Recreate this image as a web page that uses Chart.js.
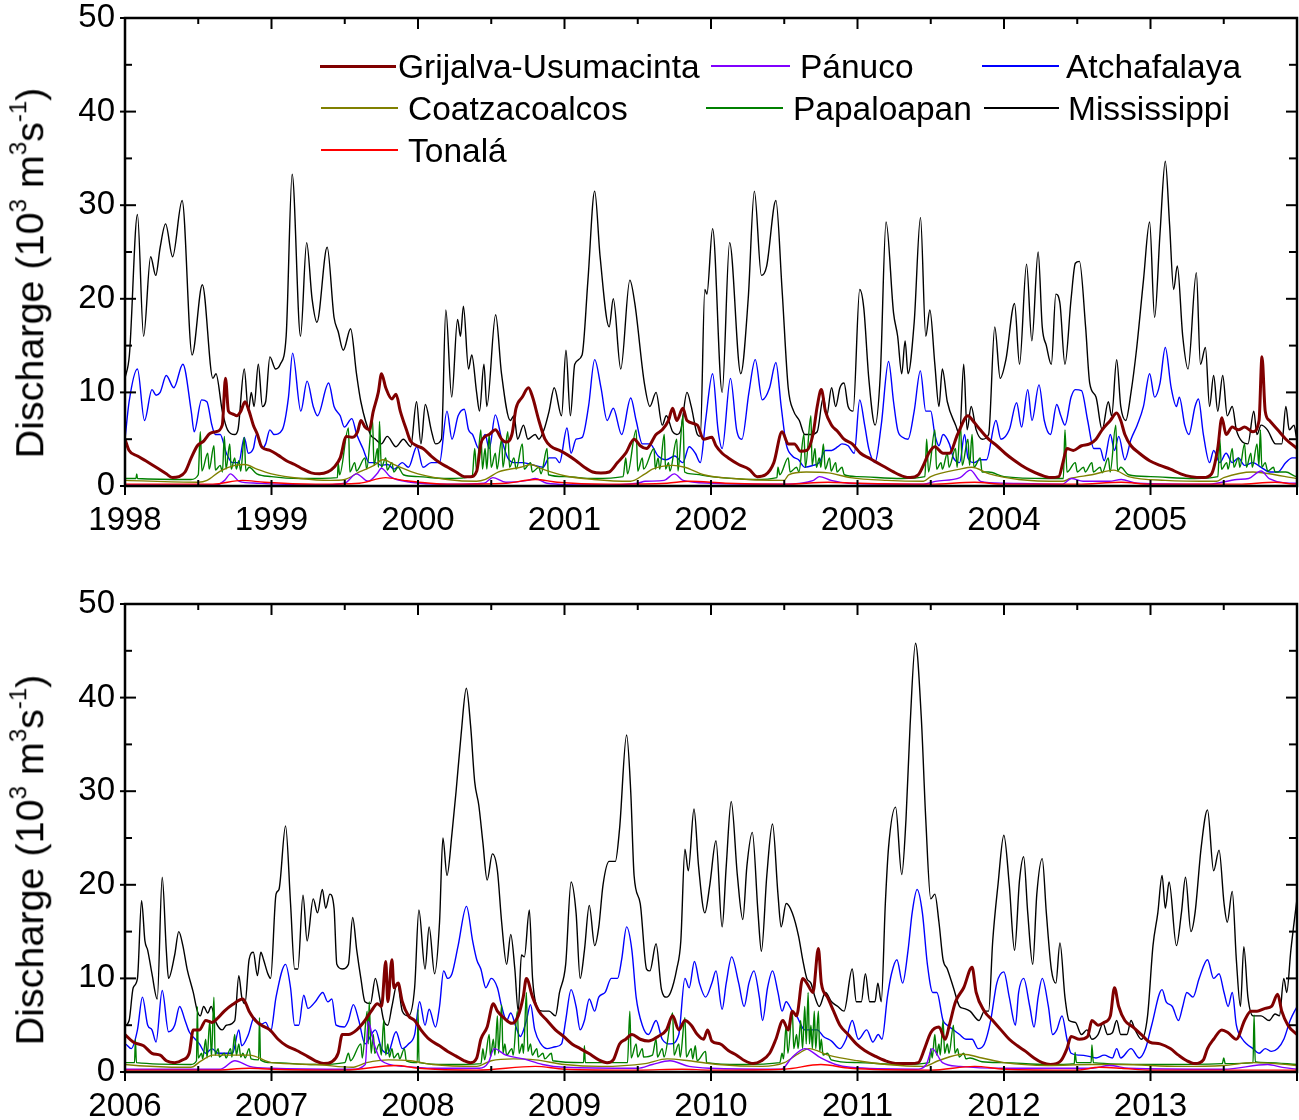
<!DOCTYPE html>
<html>
<head>
<meta charset="utf-8">
<script src="https://cdn.jsdelivr.net/npm/chart.js@4.4.1/dist/chart.umd.min.js"></script>
<style>
  html, body { margin: 0; padding: 0; background: #fff; }
  body { width: 1299px; height: 1120px; position: relative; overflow: hidden;
         font-family: "Liberation Sans", Arial, sans-serif; color: #000; }
  canvas { position: absolute; left: 0; }
  #topChart { top: 0; }
  #bottomChart { top: 586px; }
  .ytitle { position: absolute; font-size: 39.5px; white-space: nowrap; line-height: 1;
            transform: translate(-50%, -50%) rotate(-90deg); }
  .ytitle sup { font-size: 24px; vertical-align: 0; position: relative; top: -0.72em; }
  .key-line { position: absolute; }
  .key-text { position: absolute; font-size: 33.5px; line-height: 1; white-space: nowrap; }
</style>
</head>
<body>
<canvas id="topChart" width="1299" height="560"></canvas>
<canvas id="bottomChart" width="1299" height="534"></canvas>
<div class="ytitle" style="left:30px; top:273px">Discharge (10<sup>3</sup> m<sup>3</sup>s<sup>-1</sup>)</div>
<div class="ytitle" style="left:30px; top:860px">Discharge (10<sup>3</sup> m<sup>3</sup>s<sup>-1</sup>)</div>
<div id="legend"></div>
<script>
// discharge, 10^3 m3/s, as [decimal year, value]
const mississippi = [
  [1998.000,11.5],[1998.030,14],[1998.085,29],[1998.127,16],[1998.175,24.5],[1998.210,22.5],[1998.240,25.5],
  [1998.277,28],[1998.325,24.5],[1998.390,30.5],[1998.458,14],[1998.528,21.5],[1998.600,11.5],[1998.621,12],
  [1998.664,8],[1998.700,6],[1998.749,5.5],[1998.771,6],[1998.814,12.5],[1998.842,8],[1998.862,10],[1998.881,8.5],
  [1998.910,13],[1998.938,8.5],[1998.960,9],[1998.989,13.8],[1999.028,12.5],[1999.060,13],[1999.100,16],
  [1999.141,33.3],[1999.198,16],[1999.240,26],[1999.277,20],[1999.310,17.5],[1999.380,25.5],[1999.427,18],
  [1999.455,16.5],[1999.490,14.5],[1999.540,16.8],[1999.580,12],[1999.610,9],[1999.675,5.5],[1999.710,5],
  [1999.750,4.5],[1999.790,5.3],[1999.850,4.2],[1999.900,5],[1999.950,4.2],[1999.990,9],[2000.020,4.5],
  [2000.050,8.7],[2000.090,6],[2000.120,4.5],[2000.160,5],[2000.190,18.8],[2000.230,9.5],[2000.270,17.8],
  [2000.290,16],[2000.310,19.2],[2000.345,12.5],[2000.367,14],[2000.400,10],[2000.420,8],[2000.450,13],
  [2000.470,8.5],[2000.530,18.3],[2000.570,12],[2000.630,7],[2000.655,7.5],[2000.680,5],[2000.720,6.5],
  [2000.750,5],[2000.800,5.5],[2000.825,5],[2000.860,6],[2000.895,8],[2000.930,10.5],[2000.980,7.5],
  [2001.010,14.5],[2001.040,7.5],[2001.070,13],[2001.120,14],[2001.160,22],[2001.206,31.5],[2001.243,24.5],
  [2001.305,17],[2001.333,20],[2001.384,12.5],[2001.446,22],[2001.480,19.5],[2001.545,11],[2001.583,8.5],
  [2001.625,10],[2001.667,6.5],[2001.695,7.5],[2001.738,5.8],[2001.766,5.5],[2001.794,6],[2001.836,10],
  [2001.865,8.5],[2001.907,5.5],[2001.927,5.3],[2001.958,21],[2001.972,20.5],[2002.011,27.5],[2002.076,10],
  [2002.127,26],[2002.203,12],[2002.254,20],[2002.296,31.5],[2002.344,22.5],[2002.380,23.5],[2002.443,30.5],
  [2002.485,21],[2002.527,10.5],[2002.564,8],[2002.603,7],[2002.640,5.5],[2002.682,5.5],[2002.725,5.8],
  [2002.767,9.5],[2002.790,7.5],[2002.823,10.5],[2002.851,8.5],[2002.880,10.5],[2002.908,11],[2002.936,8.5],
  [2002.970,8],[2003.015,21],[2003.043,19],[2003.077,11.5],[2003.120,6.5],[2003.156,12],[2003.195,28.2],
  [2003.246,18.5],[2003.274,16],[2003.302,12],[2003.325,15.5],[2003.345,12],[2003.387,17.5],[2003.430,28.7],
  [2003.466,16],[2003.494,18.8],[2003.528,13],[2003.556,8.5],[2003.579,12.5],[2003.613,9],[2003.670,6.5],
  [2003.697,5.5],[2003.725,13],[2003.748,6],[2003.776,8.5],[2003.810,6],[2003.852,5],[2003.895,5.5],
  [2003.937,17],[2003.974,11.5],[2004.013,13.5],[2004.072,19.5],[2004.106,13],[2004.154,23.7],[2004.190,15.5],
  [2004.233,25],[2004.261,17],[2004.289,15],[2004.323,13],[2004.354,20.5],[2004.382,19.5],[2004.416,13],
  [2004.458,20],[2004.487,23.8],[2004.515,24],[2004.557,17],[2004.585,11],[2004.628,9.5],[2004.670,6],
  [2004.712,9],[2004.735,7.5],[2004.769,13.5],[2004.797,8.5],[2004.831,7],[2004.867,10],[2004.904,14.5],
  [2004.952,22],[2004.994,28.2],[2005.028,18],[2005.065,27],[2005.101,34.7],[2005.130,28],[2005.158,21],
  [2005.183,23.5],[2005.220,16],[2005.256,12.5],[2005.313,22.8],[2005.341,13],[2005.375,14.8],[2005.403,8.5],
  [2005.431,11.8],[2005.459,8],[2005.493,11.8],[2005.524,7.5],[2005.558,8.5],[2005.586,6],[2005.628,4.7],
  [2005.665,4.5],[2005.705,8],[2005.727,5.5],[2005.755,6.5],[2005.798,6],[2005.854,4.5],[2005.896,4.5],
  [2005.924,8.5],[2005.947,6],[2005.980,6.5],
  [2006.000,5],[2006.028,5.5],[2006.056,9],[2006.085,10],[2006.113,18.3],[2006.136,14],[2006.155,13],
  [2006.184,10.5],[2006.220,7.8],[2006.254,20.8],[2006.282,13],[2006.297,10],[2006.339,12.5],[2006.367,15],
  [2006.395,13.5],[2006.424,11],[2006.466,8.5],[2006.494,6.5],[2006.514,6],[2006.537,7],[2006.565,6.3],
  [2006.588,7],[2006.621,5.3],[2006.664,4.5],[2006.692,5],[2006.749,5.5],[2006.777,10.3],[2006.797,8],
  [2006.819,7.3],[2006.847,12],[2006.876,12.8],[2006.904,10.3],[2006.927,12.8],[2006.946,12],[2006.975,10.5],
  [2006.994,10],[2007.031,19],[2007.051,19.5],[2007.096,26.3],[2007.130,18],[2007.158,11],[2007.180,11],
  [2007.215,18.9],[2007.243,14],[2007.285,18.5],[2007.314,17],[2007.347,19.5],[2007.370,17.5],[2007.398,19],
  [2007.427,17.5],[2007.446,11.5],[2007.483,11],[2007.525,11.5],[2007.554,16.5],[2007.582,13],[2007.610,10],
  [2007.638,7.5],[2007.675,7.3],[2007.709,10],[2007.737,8],[2007.766,5.5],[2007.794,5],[2007.822,7],
  [2007.859,9.5],[2007.893,6.5],[2007.935,6],[2007.977,9],[2008.006,17.3],[2008.048,11],[2008.076,15.5],
  [2008.113,10.5],[2008.147,16],[2008.170,25],[2008.198,21],[2008.232,25.5],[2008.260,30],[2008.294,36],
  [2008.330,41],[2008.359,37],[2008.387,31],[2008.415,28.5],[2008.443,24.5],[2008.472,20.5],[2008.508,23.3],
  [2008.542,21.5],[2008.571,16],[2008.605,11.5],[2008.633,14.7],[2008.661,11],[2008.684,6.5],[2008.706,12.5],
  [2008.726,12.3],[2008.760,17.3],[2008.782,10],[2008.811,7],[2008.853,6.5],[2008.895,6.5],[2008.938,6],
  [2008.966,8.5],[2009.008,11.5],[2009.045,20.3],[2009.079,17],[2009.107,10],[2009.136,13],[2009.169,17.8],
  [2009.206,13.5],[2009.234,15.5],[2009.263,20],[2009.305,22.5],[2009.347,22.5],[2009.376,26],[2009.424,36],
  [2009.452,30],[2009.475,21],[2009.517,18],[2009.560,11],[2009.583,10.8],[2009.625,13.7],[2009.662,8.8],
  [2009.696,8],[2009.724,8.5],[2009.766,11],[2009.794,14],[2009.822,23.8],[2009.845,21.5],[2009.884,28.1],
  [2009.915,22],[2009.958,17],[2009.992,20],[2010.034,24.7],[2010.076,15.5],[2010.104,22],[2010.138,28.9],
  [2010.180,21],[2010.217,16.3],[2010.245,22],[2010.282,25.6],[2010.321,17],[2010.344,12.9],[2010.381,21],
  [2010.420,26.5],[2010.457,19],[2010.479,15.5],[2010.513,18],[2010.555,17],[2010.598,14.5],[2010.626,12],
  [2010.654,10],[2010.682,9.5],[2010.710,8],[2010.739,7],[2010.781,8.5],[2010.823,7.5],[2010.866,7],
  [2010.908,6.5],[2010.964,11],[2010.992,7.5],[2011.026,7.5],[2011.054,10.5],[2011.083,7.5],[2011.119,7.5],
  [2011.139,9.5],[2011.162,7.5],[2011.190,18],[2011.212,24],[2011.260,28.3],[2011.302,21.1],[2011.331,27],
  [2011.359,37],[2011.396,45.8],[2011.435,38],[2011.466,27],[2011.500,18.5],[2011.528,19],[2011.556,16],
  [2011.584,12],[2011.613,11],[2011.655,9],[2011.697,7],[2011.725,6.8],[2011.768,6.5],[2011.830,5.5],
  [2011.866,6.5],[2011.895,6.5],[2011.923,14],[2011.959,20],[2011.999,25.3],[2012.036,20],[2012.072,13],
  [2012.106,20.5],[2012.134,23],[2012.162,17],[2012.196,11.5],[2012.224,19],[2012.261,22.8],[2012.289,17],
  [2012.323,11],[2012.354,9.5],[2012.382,13.8],[2012.416,8],[2012.444,5.5],[2012.487,5.3],[2012.529,4],
  [2012.566,4.5],[2012.600,3.5],[2012.642,4],[2012.676,5.2],[2012.707,4],[2012.740,4.2],[2012.769,5.5],
  [2012.797,4],[2012.839,4],[2012.867,5.5],[2012.895,4.5],[2012.938,3.5],[2012.980,6],[2013.017,13.5],
  [2013.050,17],[2013.079,21],[2013.101,17.5],[2013.127,20.3],[2013.177,13.5],[2013.211,17],[2013.239,20.8],
  [2013.276,15],[2013.304,17],[2013.346,24],[2013.389,28],[2013.431,21.5],[2013.468,23.7],[2013.502,18],
  [2013.524,16],[2013.558,19.3],[2013.586,12],[2013.614,7],[2013.637,13.4],[2013.665,8],[2013.700,6],
  [2013.755,6],[2013.810,5.5],[2013.850,6.2],[2013.880,6],[2013.910,10],[2013.930,8.5],[2013.958,13],
  [2014.000,18.5]
];

const atchafalaya = [
  [1998.000,5],[1998.028,9],[1998.085,12.5],[1998.133,7],[1998.184,10.3],[1998.212,9.7],[1998.240,10],
  [1998.282,11.8],[1998.333,10.5],[1998.395,13],[1998.452,8],[1998.472,5.8],[1998.523,9.2],[1998.559,9],
  [1998.593,6.5],[1998.616,5.5],[1998.650,5.5],[1998.692,3.5],[1998.734,2.5],[1998.777,2.5],[1998.814,5.2],
  [1998.842,3.5],[1998.876,4],[1998.898,5.5],[1998.938,4],[1998.960,4.5],[1998.989,6],[1999.017,5.5],
  [1999.073,6],[1999.116,9.5],[1999.144,14.2],[1999.200,8],[1999.243,11.2],[1999.285,8.5],[1999.314,7.5],
  [1999.390,11],[1999.427,8.5],[1999.469,7.5],[1999.497,6.3],[1999.548,7.2],[1999.582,5.5],[1999.624,4],
  [1999.667,2.5],[1999.709,2.5],[1999.751,2.2],[1999.794,2.3],[1999.836,1.8],[1999.893,2.5],[1999.935,2],
  [1999.992,4.2],[2000.034,2],[2000.090,2.5],[2000.147,2.5],[2000.198,8],[2000.232,5],[2000.274,7.5],
  [2000.316,8.2],[2000.345,6],[2000.373,5.5],[2000.415,4],[2000.458,5.5],[2000.486,4],[2000.528,7.6],
  [2000.571,5],[2000.613,3],[2000.655,2.5],[2000.712,2.5],[2000.797,2.2],[2000.853,2],[2000.895,3],
  [2000.938,3],[2000.966,2.5],[2001.017,6.2],[2001.045,3.5],[2001.079,5],[2001.121,5.2],[2001.164,8.5],
  [2001.206,13.5],[2001.249,10.5],[2001.291,7],[2001.333,8.3],[2001.390,5.5],[2001.452,9.4],[2001.489,7],
  [2001.531,4.5],[2001.583,4.5],[2001.639,3.2],[2001.695,2.8],[2001.752,3.2],[2001.808,2.5],[2001.851,4.2],
  [2001.893,3.5],[2001.927,2.5],[2001.963,7],[2002.011,12],[2002.048,6],[2002.076,4],[2002.133,11.5],
  [2002.175,6],[2002.211,5],[2002.259,10],[2002.302,13.5],[2002.350,9.2],[2002.400,10.5],[2002.443,13.2],
  [2002.479,8.5],[2002.513,4.5],[2002.555,3.2],[2002.598,2.8],[2002.640,2],[2002.696,2.2],[2002.739,2.5],
  [2002.781,3.8],[2002.823,3.8],[2002.866,4.2],[2002.894,4.5],[2002.936,4.3],[2002.978,3.5],[2003.015,9.2],
  [2003.049,6.5],[2003.077,4],[2003.119,2.5],[2003.162,6.5],[2003.212,13.3],[2003.246,9],[2003.274,6],
  [2003.308,5.2],[2003.345,5],[2003.387,8],[2003.429,12.3],[2003.466,8],[2003.500,8],[2003.528,5.5],
  [2003.556,4.3],[2003.584,5.5],[2003.627,4.5],[2003.655,3],[2003.697,2.5],[2003.731,5.5],[2003.754,3],
  [2003.796,2.5],[2003.838,2.8],[2003.880,2.8],[2003.945,7],[2003.979,5],[2004.036,6],[2004.086,8.9],
  [2004.120,6.3],[2004.162,10.3],[2004.191,7],[2004.239,10.8],[2004.275,7],[2004.317,5.5],[2004.360,8.7],
  [2004.388,7.5],[2004.416,6.5],[2004.458,9.5],[2004.487,10.3],[2004.529,10.2],[2004.571,7],[2004.613,4],
  [2004.656,4],[2004.684,2.7],[2004.726,5.5],[2004.754,3.8],[2004.783,5.3],[2004.825,2.8],[2004.867,5],
  [2004.909,6.5],[2004.952,8.5],[2004.994,12],[2005.028,9.5],[2005.065,11],[2005.101,14.8],[2005.141,10.5],
  [2005.177,8.5],[2005.197,9.5],[2005.234,6.5],[2005.262,5.5],[2005.304,8.5],[2005.327,9.3],[2005.361,5.5],
  [2005.403,2.5],[2005.431,3.8],[2005.473,2.5],[2005.516,3.5],[2005.558,2.5],[2005.600,3],[2005.642,2.2],
  [2005.699,2.5],[2005.755,2],[2005.812,1.5],[2005.868,1.5],[2005.924,2.5],[2005.967,3],
  [2006.000,3],[2006.042,2.5],[2006.085,4.5],[2006.119,8],[2006.155,5],[2006.184,4.5],[2006.212,3.2],
  [2006.254,8.7],[2006.297,4.3],[2006.339,5],[2006.373,7],[2006.410,5.5],[2006.438,4.3],[2006.480,3.5],
  [2006.508,3],[2006.551,2],[2006.593,2.5],[2006.636,2],[2006.734,2],[2006.777,4.5],[2006.797,2.8],
  [2006.842,4],[2006.881,5.8],[2006.918,5],[2006.960,5.3],[2006.994,4.3],[2007.031,8],[2007.096,11.5],
  [2007.130,9],[2007.158,5],[2007.186,5],[2007.220,8.2],[2007.249,6.8],[2007.299,7.5],[2007.350,8.5],
  [2007.384,7.5],[2007.412,7.8],[2007.441,5],[2007.497,4.8],[2007.525,5.5],[2007.559,7.2],[2007.596,5.5],
  [2007.638,3],[2007.709,4.5],[2007.751,2.5],[2007.794,2],[2007.850,4.3],[2007.893,2.5],[2007.935,3],
  [2007.977,4],[2008.011,7.5],[2008.048,5],[2008.076,6.7],[2008.119,4.8],[2008.147,7],[2008.175,10.8],
  [2008.203,10],[2008.232,10.5],[2008.274,13.5],[2008.331,17.7],[2008.373,14],[2008.401,12],[2008.429,11],
  [2008.463,9],[2008.500,10],[2008.542,9],[2008.571,7],[2008.605,5.5],[2008.633,6.3],[2008.669,4.8],
  [2008.698,3.8],[2008.740,5.5],[2008.768,7.2],[2008.797,4.5],[2008.839,3],[2008.881,2.5],[2008.938,2.7],
  [2008.980,3],[2009.008,5.5],[2009.045,8.8],[2009.079,7],[2009.107,4.5],[2009.136,5.5],[2009.169,7.8],
  [2009.206,6.5],[2009.234,8],[2009.277,8.5],[2009.319,10],[2009.362,10],[2009.390,12],[2009.424,15.5],
  [2009.460,13],[2009.489,8],[2009.531,5],[2009.573,4],[2009.625,5.5],[2009.667,3.5],[2009.724,3],
  [2009.780,4],[2009.822,10],[2009.851,9],[2009.887,11.8],[2009.921,9.5],[2009.963,8],[2010.006,9.5],
  [2010.034,10.8],[2010.076,6.7],[2010.104,9.5],[2010.141,12.3],[2010.189,9.5],[2010.226,7],[2010.259,9.5],
  [2010.293,10.8],[2010.330,8],[2010.352,5.5],[2010.386,9],[2010.420,10.8],[2010.457,8.5],[2010.485,6.5],
  [2010.513,7.5],[2010.555,6.5],[2010.584,6],[2010.640,4.5],[2010.725,4.5],[2010.767,3.8],[2010.823,3.3],
  [2010.880,2.5],[2010.922,3.5],[2010.964,5.5],[2011.006,3.5],[2011.063,4.5],[2011.105,3.2],[2011.142,4],
  [2011.167,3.5],[2011.204,8],[2011.232,10.5],[2011.269,12],[2011.308,9.5],[2011.345,13],[2011.373,17],
  [2011.407,19.5],[2011.443,17],[2011.477,11.5],[2011.514,8.5],[2011.542,8.5],[2011.584,5.5],[2011.613,5],
  [2011.655,4.5],[2011.697,4],[2011.740,3.5],[2011.782,3.5],[2011.824,2.5],[2011.866,3],[2011.909,5.5],
  [2011.951,9.5],[2011.999,10.7],[2012.036,8],[2012.078,5],[2012.100,8.5],[2012.134,10],[2012.176,7],
  [2012.205,4.8],[2012.233,8],[2012.261,10],[2012.303,7],[2012.332,4],[2012.360,4.5],[2012.396,6],
  [2012.430,3.5],[2012.458,2],[2012.515,1.8],[2012.571,1.7],[2012.628,1.5],[2012.684,1.8],[2012.740,1.5],
  [2012.769,2.5],[2012.797,1.5],[2012.867,2.5],[2012.924,1.5],[2012.966,2.5],[2013.008,5],[2013.079,8.8],
  [2013.107,7.5],[2013.149,7],[2013.191,5.5],[2013.220,7],[2013.248,8.5],[2013.290,8],[2013.332,10],
  [2013.389,12],[2013.431,10],[2013.468,10.5],[2013.502,8.5],[2013.530,7],[2013.558,8.5],[2013.586,5],
  [2013.628,3.5],[2013.657,3],[2013.699,2.5],[2013.741,2],[2013.783,2.5],[2013.826,2.2],[2013.868,2.5],
  [2013.910,3.5],[2013.953,5.5],[2014.000,7]
];

const grijalva = [
  [1998.000,5],[1998.028,3.8],[1998.085,3.2],[1998.141,2.7],[1998.212,2],[1998.282,1.3],[1998.325,0.9],
  [1998.367,1],[1998.410,1.5],[1998.452,3],[1998.494,4.3],[1998.537,4.8],[1998.579,5.6],[1998.621,5.8],
  [1998.664,6.5],[1998.686,11.5],[1998.706,8],[1998.734,7.7],[1998.763,7.5],[1998.791,8],[1998.819,9],
  [1998.847,8],[1998.876,6.5],[1998.904,5.5],[1998.932,4.2],[1998.989,3.8],[1999.045,3.3],[1999.102,2.7],
  [1999.158,2.3],[1999.215,1.8],[1999.271,1.4],[1999.328,1.3],[1999.384,1.5],[1999.427,2],[1999.469,3],
  [1999.511,5.3],[1999.554,5.2],[1999.588,5.8],[1999.610,7],[1999.638,6.3],[1999.667,6],[1999.695,8],
  [1999.729,10],[1999.751,12],[1999.780,10.5],[1999.822,9.3],[1999.850,9.8],[1999.879,8],[1999.921,6],
  [1999.949,4.8],[1999.992,4.3],[2000.034,4],[2000.090,3.2],[2000.147,2.5],[2000.203,2],[2000.260,1.5],
  [2000.316,1],[2000.359,1],[2000.401,1.6],[2000.429,4.5],[2000.458,5.3],[2000.486,5.5],[2000.528,6],
  [2000.571,5],[2000.599,4.7],[2000.641,5.5],[2000.669,8.3],[2000.712,9.5],[2000.754,10.5],[2000.782,9.5],
  [2000.825,7],[2000.867,5],[2000.910,4.2],[2000.966,3.8],[2001.023,3.3],[2001.079,2.7],[2001.136,2],
  [2001.192,1.5],[2001.249,1.4],[2001.305,1.5],[2001.362,2.5],[2001.418,3.5],[2001.475,5],[2001.517,4.3],
  [2001.559,4],[2001.625,5.5],[2001.667,6],[2001.710,7],[2001.738,8.3],[2001.766,7],[2001.808,8.3],
  [2001.836,7],[2001.907,6.5],[2001.949,5],[2002.006,5.2],[2002.034,4.3],[2002.076,3.5],[2002.118,3],
  [2002.189,2.3],[2002.259,1.8],[2002.316,1],[2002.372,1.2],[2002.429,2.5],[2002.485,5.8],[2002.527,4.5],
  [2002.569,4.5],[2002.612,3.7],[2002.654,3.8],[2002.696,5.5],[2002.725,8.5],[2002.753,10.3],[2002.781,8],
  [2002.823,6.5],[2002.866,5.8],[2002.908,5],[2002.964,4.5],[2003.021,3.5],[2003.077,3],[2003.133,2.5],
  [2003.190,2],[2003.246,1.5],[2003.317,1],[2003.359,0.9],[2003.415,1.2],[2003.458,2.5],[2003.486,3.5],
  [2003.528,4.2],[2003.584,3.5],[2003.627,3.5],[2003.683,5.5],[2003.754,7.5],[2003.796,6.8],[2003.838,6],
  [2003.895,5],[2003.951,4.3],[2004.007,3.5],[2004.064,2.8],[2004.120,2.2],[2004.176,1.7],[2004.247,1.2],
  [2004.317,0.9],[2004.374,1],[2004.402,2.5],[2004.430,4],[2004.473,3.8],[2004.529,4.3],[2004.585,4.5],
  [2004.628,5],[2004.670,6],[2004.726,7],[2004.769,7.8],[2004.797,7],[2004.825,5.5],[2004.867,4.3],
  [2004.924,3.5],[2004.994,2.7],[2005.065,2.2],[2005.135,1.8],[2005.206,1.3],[2005.276,1],[2005.361,0.9],
  [2005.417,1.3],[2005.459,4],[2005.487,7.3],[2005.516,5.5],[2005.558,6.3],[2005.600,6],[2005.642,6.3],
  [2005.699,5.8],[2005.741,7],[2005.761,13.8],[2005.783,8],[2005.812,7],[2005.868,6],[2005.924,5],
  [2006.000,4],[2006.056,3.2],[2006.127,2.8],[2006.184,2],[2006.240,1.8],[2006.282,1.2],[2006.339,1],
  [2006.395,1.3],[2006.438,2],[2006.466,4.5],[2006.508,4.5],[2006.551,5.5],[2006.593,5.3],[2006.636,5.8],
  [2006.678,6.5],[2006.734,7.2],[2006.805,7.8],[2006.847,6.5],[2006.890,5.5],[2006.932,5],[2006.989,4.5],
  [2007.045,3.5],[2007.102,2.8],[2007.172,2.3],[2007.243,1.7],[2007.299,1.2],[2007.356,0.9],[2007.412,1.1],
  [2007.455,2],[2007.483,4],[2007.525,4],[2007.582,4.5],[2007.638,5.5],[2007.681,6.5],[2007.723,7.3],
  [2007.751,7],[2007.780,11.8],[2007.794,7.5],[2007.822,12],[2007.836,9],[2007.864,9.5],[2007.893,7.5],
  [2007.935,6],[2007.977,5.5],[2008.020,4.5],[2008.076,3.5],[2008.147,2.8],[2008.203,2.2],[2008.260,1.7],
  [2008.316,1.2],[2008.359,1],[2008.401,1.5],[2008.429,3.5],[2008.472,4.8],[2008.514,7.3],[2008.542,6.5],
  [2008.585,5.8],[2008.641,5.2],[2008.684,6],[2008.718,8],[2008.740,10],[2008.782,8],[2008.825,6.5],
  [2008.881,5.5],[2008.938,4.5],[2008.994,3.8],[2009.051,3],[2009.107,2.5],[2009.164,2],[2009.234,1.3],
  [2009.291,1],[2009.333,1.3],[2009.376,3],[2009.418,3.5],[2009.460,4],[2009.517,3.5],[2009.573,3.3],
  [2009.639,3.8],[2009.696,4.5],[2009.738,6],[2009.780,4.5],[2009.822,5.5],[2009.865,5],[2009.907,4],
  [2009.949,3.5],[2009.977,4.5],[2010.006,3.3],[2010.062,3],[2010.118,2.3],[2010.175,1.8],[2010.231,1.2],
  [2010.288,0.9],[2010.344,1.2],[2010.400,2],[2010.443,3.5],[2010.491,5.5],[2010.527,4.5],[2010.555,6.5],
  [2010.584,6],[2010.626,10],[2010.654,9.5],[2010.696,8.5],[2010.733,13.2],[2010.753,9.5],[2010.795,8],
  [2010.837,6.5],[2010.880,5],[2010.936,4],[2010.992,3],[2011.049,2.3],[2011.119,1.7],[2011.190,1.2],
  [2011.274,0.9],[2011.359,0.9],[2011.415,1],[2011.458,2.5],[2011.500,4.2],[2011.556,4.8],[2011.599,3.5],
  [2011.627,5],[2011.669,7.5],[2011.725,9],[2011.782,11.2],[2011.810,8.5],[2011.866,6.5],[2011.923,5.5],
  [2011.979,4.5],[2012.036,3.5],[2012.092,2.8],[2012.148,2.2],[2012.205,1.5],[2012.261,1],[2012.317,0.8],
  [2012.388,1.2],[2012.430,2.5],[2012.458,3.8],[2012.515,3.5],[2012.571,3.8],[2012.600,5.5],[2012.642,5],
  [2012.684,5.3],[2012.726,6],[2012.754,9],[2012.783,7],[2012.825,5.5],[2012.881,4.8],[2012.938,4],
  [2012.994,3.2],[2013.065,3],[2013.135,2.5],[2013.191,1.8],[2013.248,1.2],[2013.304,0.9],[2013.361,1.3],
  [2013.389,2.5],[2013.431,3.5],[2013.487,4.5],[2013.530,4.2],[2013.586,3.5],[2013.642,5.5],[2013.685,6.5],
  [2013.727,6.5],[2013.783,6.8],[2013.826,7],[2013.868,8.3],[2013.896,6.5],[2013.938,5],[2014.000,4]
];

const papaloapan = [
  [1998.000,0.8],[1998.075,0.8],[1998.080,1.3],[1998.085,0.8],[1998.450,0.7],[1998.500,1.2],[1998.514,5.8],
  [1998.525,1.6],[1998.565,3.5],[1998.575,1.8],[1998.607,4.3],[1998.617,1.7],[1998.650,2.2],[1998.665,1.5],
  [1998.678,5.3],[1998.690,1.8],[1998.715,4.5],[1998.725,1.8],[1998.749,3],[1998.760,1.8],[1998.777,2.7],
  [1998.790,1.6],[1998.814,5.2],[1998.825,1.6],[1998.847,2],[1998.900,1.3],[1999.000,1],[1999.200,0.8],
  [1999.450,0.9],[1999.455,2.5],[1999.465,1.2],[1999.525,6.2],[1999.535,1.5],[1999.568,2.5],[1999.580,1.6],
  [1999.638,3],[1999.650,1.8],[1999.689,7.2],[1999.700,2.2],[1999.723,4],[1999.730,2],[1999.737,6.9],
  [1999.750,2],[1999.780,3],[1999.790,1.7],[1999.822,2.5],[1999.835,1.5],[1999.864,2],[1999.900,1.2],
  [2000.000,1],[2000.200,0.8],[2000.370,1],[2000.387,4],[2000.400,1.6],[2000.429,6],[2000.440,1.8],
  [2000.458,4],[2000.470,1.8],[2000.486,5.5],[2000.500,2],[2000.528,3.5],[2000.540,1.8],[2000.571,5],
  [2000.580,2],[2000.613,5.8],[2000.625,2],[2000.655,3],[2000.670,1.8],[2000.712,4.5],[2000.725,1.8],
  [2000.768,2.5],[2000.780,1.5],[2000.825,2],[2000.840,1.3],[2000.881,4],[2000.890,1.2],[2001.000,1],
  [2001.200,0.8],[2001.400,1],[2001.418,3],[2001.430,1.3],[2001.489,6],[2001.500,1.6],[2001.531,3],
  [2001.540,1.8],[2001.611,4],[2001.620,1.8],[2001.639,3],[2001.650,1.8],[2001.681,5.5],[2001.690,1.8],
  [2001.710,2.5],[2001.720,1.6],[2001.766,5],[2001.775,1.6],[2001.808,7.5],[2001.820,1.5],[2001.865,1.3],
  [2002.000,1],[2002.300,0.7],[2002.450,0.9],[2002.457,2],[2002.470,1.2],[2002.527,3],[2002.540,1.5],
  [2002.584,2],[2002.600,1.5],[2002.634,5.5],[2002.645,2],[2002.682,7.5],[2002.690,2.2],[2002.710,4],
  [2002.720,2],[2002.739,3],[2002.750,2],[2002.767,4.5],[2002.780,1.8],[2002.809,3],[2002.820,1.6],
  [2002.851,2.5],[2002.860,1.5],[2002.894,2],[2002.910,1.2],[2003.000,1],[2003.300,0.8],[2003.460,1],
  [2003.472,5],[2003.485,1.5],[2003.528,6],[2003.540,1.8],[2003.570,2.5],[2003.580,1.8],[2003.613,3.5],
  [2003.625,2],[2003.669,4],[2003.680,2],[2003.703,6.5],[2003.715,2.2],[2003.754,5],[2003.765,2.2],
  [2003.782,5.5],[2003.795,2],[2003.838,3],[2003.850,1.5],[2003.895,1.5],[2004.000,1],[2004.300,0.8],
  [2004.405,0.8],[2004.416,6],[2004.430,1.5],[2004.487,2.5],[2004.500,1.5],[2004.543,2],[2004.555,1.5],
  [2004.600,2.5],[2004.610,1.5],[2004.656,2],[2004.670,1.4],[2004.712,3],[2004.725,1.5],[2004.763,6.5],
  [2004.775,1.6],[2004.797,2],[2004.850,1.2],[2005.000,1],[2005.300,0.8],[2005.460,1],[2005.473,5],
  [2005.485,1.8],[2005.520,2.5],[2005.530,1.8],[2005.558,4],[2005.570,2],[2005.600,3],[2005.610,2],
  [2005.642,4.5],[2005.655,2],[2005.685,3.5],[2005.695,2],[2005.727,4.5],[2005.740,2.2],[2005.750,6],
  [2005.760,2],[2005.783,2.5],[2005.800,1.6],[2005.840,2],[2005.850,1.5],[2005.924,1.5],
  [2006.000,1],[2006.065,1],[2006.071,3.5],[2006.078,1],[2006.450,0.8],[2006.488,1.2],[2006.494,7],
  [2006.500,1.5],[2006.523,2],[2006.530,1.4],[2006.551,3.5],[2006.560,1.5],[2006.579,5.5],[2006.590,1.6],
  [2006.607,8],[2006.615,1.8],[2006.636,2.5],[2006.645,1.6],[2006.678,2],[2006.690,1.5],[2006.720,2.5],
  [2006.730,1.6],[2006.749,4],[2006.760,1.8],[2006.777,3],[2006.790,1.6],[2006.805,2],[2006.820,1.5],
  [2006.847,2.5],[2006.860,1.4],[2006.912,1.3],[2006.918,5.8],[2006.925,1.3],[2007.000,1],[2007.300,0.8],
  [2007.500,1],[2007.525,2],[2007.540,1.2],[2007.610,3],[2007.620,1.5],[2007.653,6.5],[2007.660,3],
  [2007.667,7.5],[2007.680,2],[2007.695,4],[2007.705,2],[2007.737,3],[2007.750,1.8],[2007.766,5.5],
  [2007.780,1.8],[2007.794,3],[2007.805,1.6],[2007.822,2.5],[2007.835,1.5],[2007.864,2],[2007.875,1.4],
  [2007.907,2.5],[2007.920,1.2],[2007.995,1],[2008.000,6.7],[2008.007,1],[2008.200,0.8],[2008.430,0.9],
  [2008.443,2.5],[2008.455,1.3],[2008.486,4],[2008.495,1.6],[2008.514,3.5],[2008.525,1.8],[2008.542,6],
  [2008.550,2],[2008.571,7.2],[2008.580,2],[2008.593,3],[2008.605,1.8],[2008.641,2.5],[2008.650,1.8],
  [2008.678,6.5],[2008.690,2],[2008.712,3],[2008.720,2],[2008.740,8.5],[2008.750,2.2],[2008.768,3],
  [2008.780,1.8],[2008.811,2.5],[2008.820,1.6],[2008.853,2],[2008.865,1.4],[2008.910,2],[2008.920,1.2],
  [2009.130,1],[2009.136,2.8],[2009.142,1],[2009.430,1],[2009.446,6.5],[2009.455,1.5],[2009.489,3],
  [2009.500,1.6],[2009.531,2.5],[2009.540,1.6],[2009.600,1.8],[2009.625,3.5],[2009.635,1.6],[2009.667,2.5],
  [2009.680,1.6],[2009.738,6.3],[2009.748,1.8],[2009.780,3],[2009.790,1.6],[2009.822,5.8],[2009.832,1.6],
  [2009.865,2.5],[2009.875,1.4],[2009.893,2.8],[2009.905,1.2],[2009.963,2.2],[2009.970,1],[2010.200,0.8],
  [2010.470,1],[2010.485,2],[2010.495,1.4],[2010.513,5],[2010.525,2],[2010.555,6.5],[2010.565,2.5],
  [2010.584,4],[2010.595,2.5],[2010.612,5.5],[2010.625,2.5],[2010.640,7],[2010.650,3],[2010.663,8.5],
  [2010.672,3],[2010.682,5],[2010.692,2.5],[2010.705,6.5],[2010.715,2.5],[2010.733,6.5],[2010.742,2.2],
  [2010.753,3.5],[2010.765,1.8],[2010.795,2],[2010.820,1.3],[2011.000,1],[2011.300,0.8],[2011.490,1],
  [2011.500,2.5],[2011.510,1.5],[2011.528,4],[2011.540,1.8],[2011.556,3],[2011.565,1.8],[2011.584,5.5],
  [2011.595,2],[2011.613,3],[2011.625,2],[2011.655,5],[2011.665,2],[2011.683,2.5],[2011.695,1.6],
  [2011.725,2],[2011.740,1.4],[2011.768,1.5],[2011.850,1.1],[2012.000,1],[2012.300,0.8],[2012.480,0.9],
  [2012.485,2.1],[2012.495,1],[2012.595,1],[2012.600,2.9],[2012.610,1],[2013.000,0.8],[2013.490,0.9],
  [2013.500,1.5],[2013.510,0.9],[2013.700,1],[2013.707,6.1],[2013.715,1.1],[2013.800,1],[2014.000,0.8]
];

const coatzacoalcos = [
  [1998.00,0.6],[1998.50,0.4],[1998.56,0.6],[1998.65,1.6],[1998.75,2.2],[1998.82,2.3],[1998.90,1.8],
  [1999.00,1.3],[1999.20,0.8],[1999.40,0.6],[1999.50,0.7],[1999.60,1.5],[1999.70,2.2],[1999.76,2.8],
  [1999.85,2.2],[2000.00,1.3],[2000.20,0.7],[2000.40,0.5],[2000.46,0.7],[2000.55,1.5],[2000.70,2.0],
  [2000.77,2.3],[2000.85,1.8],[2001.00,1.1],[2001.20,0.7],[2001.45,0.5],[2001.55,1.3],[2001.60,1.8],
  [2001.74,2.2],[2001.82,2.0],[2001.95,1.2],[2002.15,0.8],[2002.50,0.6],[2002.53,1.2],[2002.65,1.5],
  [2002.80,1.4],[2002.95,0.9],[2003.20,0.6],[2003.45,0.5],[2003.50,1.0],[2003.70,1.8],[2003.78,2.0],
  [2003.90,1.3],[2004.10,0.7],[2004.40,0.5],[2004.45,0.8],[2004.60,1.2],[2004.75,1.7],[2004.85,1.0],
  [2005.10,0.6],[2005.45,0.5],[2005.50,0.9],[2005.70,1.5],[2005.85,1.2],[2006.00,0.8],[2006.45,0.5],
  [2006.52,1.2],[2006.60,1.8],[2006.85,1.8],[2007.00,1.0],[2007.30,0.8],[2007.55,0.5],[2007.65,1.0],
  [2007.80,1.3],[2007.95,1.2],[2008.10,0.8],[2008.40,0.6],[2008.50,1.2],[2008.65,1.4],[2008.80,1.3],
  [2009.00,0.8],[2009.25,0.6],[2009.55,0.9],[2009.70,1.4],[2009.85,1.2],[2010.05,0.8],[2010.35,0.6],
  [2010.50,1.0],[2010.60,2.0],[2010.67,2.5],[2010.80,1.8],[2011.00,1.2],[2011.20,0.8],[2011.45,0.6],
  [2011.55,1.2],[2011.72,1.9],[2011.85,1.5],[2012.00,1.0],[2012.30,0.7],[2012.60,0.8],[2012.80,0.8],
  [2013.20,0.6],[2013.50,0.7],[2013.70,1.0],[2013.85,0.9],[2014.00,0.7]
];

const panuco = [
  [1998.00,0.1],[1998.62,0.1],[1998.68,0.6],[1998.72,1.3],[1998.78,0.5],[1998.90,0.3],[1999.30,0.1],
  [1999.50,0.3],[1999.58,1.3],[1999.66,0.5],[1999.72,1.3],[1999.75,1.9],[1999.81,1.0],[1999.95,0.4],
  [2000.20,0.2],[2000.45,0.3],[2000.51,0.9],[2000.60,0.4],[2000.75,0.6],[2000.80,0.8],[2000.88,0.3],
  [2001.20,0.1],[2001.50,0.3],[2001.55,0.5],[2001.68,0.6],[2001.75,1.3],[2001.81,0.6],[2002.00,0.3],
  [2002.50,0.2],[2002.70,0.6],[2002.74,1.0],[2002.82,0.6],[2002.94,0.3],[2003.45,0.2],[2003.53,0.5],
  [2003.70,0.9],[2003.77,1.7],[2003.84,0.5],[2004.00,0.3],[2004.40,0.2],[2004.46,0.8],[2004.54,0.5],
  [2004.72,0.5],[2004.80,0.7],[2004.91,0.3],[2005.40,0.2],[2005.59,0.7],[2005.67,0.8],[2005.755,1.6],
  [2005.81,0.8],[2006.00,0.3],[2006.65,0.3],[2006.75,1.2],[2006.85,0.6],[2007.00,0.4],[2007.55,0.3],
  [2007.64,0.8],[2007.66,5.4],[2007.70,3.0],[2007.75,1.2],[2007.90,0.6],[2008.10,0.4],[2008.42,0.4],
  [2008.48,1.0],[2008.52,2.5],[2008.60,1.8],[2008.72,1.4],[2008.85,0.8],[2009.00,0.5],[2009.50,0.4],
  [2009.60,0.8],[2009.72,1.2],[2009.85,0.6],[2010.00,0.4],[2010.48,0.3],[2010.55,1.5],[2010.64,2.5],
  [2010.75,1.5],[2010.85,0.8],[2010.95,0.5],[2011.40,0.3],[2011.47,0.8],[2011.51,2.5],[2011.58,1.0],
  [2011.70,0.6],[2012.00,0.4],[2012.60,0.4],[2012.72,0.7],[2012.85,0.4],[2013.50,0.3],[2013.80,0.8],
  [2013.90,0.5],[2014.00,0.3]
];

const tonala = [
  [1998.00,0.2],[1998.60,0.2],[1998.80,0.6],[1998.95,0.4],[1999.30,0.2],[1999.60,0.3],[1999.78,0.9],
  [1999.90,0.6],[2000.20,0.2],[2000.60,0.3],[2000.80,0.7],[2000.95,0.4],[2001.30,0.2],[2001.70,0.3],
  [2001.85,0.5],[2002.10,0.3],[2002.50,0.2],[2002.80,0.4],[2003.00,0.3],[2003.50,0.2],[2003.80,0.4],
  [2004.00,0.2],[2004.50,0.2],[2004.80,0.4],[2005.00,0.2],[2005.60,0.2],[2005.85,0.4],[2006.00,0.2],
  [2006.60,0.2],[2006.85,0.4],[2007.00,0.3],[2007.50,0.2],[2007.85,0.7],[2008.00,0.4],[2008.40,0.2],
  [2008.80,0.6],[2009.00,0.3],[2009.50,0.2],[2009.80,0.3],[2010.00,0.2],[2010.50,0.3],[2010.75,0.8],
  [2010.95,0.4],[2011.50,0.2],[2011.80,0.6],[2012.00,0.3],[2012.50,0.2],[2012.65,0.5],[2012.80,0.4],
  [2013.00,0.2],[2014.00,0.2]
];

const seriesNames = ['Grijalva-Usumacinta', 'Pánuco', 'Atchafalaya', 'Coatzacoalcos', 'Papaloapan', 'Mississippi', 'Tonalá'];
const seriesData = [grijalva, panuco, atchafalaya, coatzacoalcos, papaloapan, mississippi, tonala];
const panelRanges = [[1998, 2006], [2006, 2014]];

// styles
const colors = ['#800000', '#8000ff', '#0000ff', '#808000', '#008000', '#000000', '#ff0000'];
const widths = [3, 1.4, 1.4, 1.4, 1.4, 1.4, 1.4];
const drawOrder = [4, 2, 6, 3, 5, 7, 1]; // higher = drawn underneath

// legend placement: [line x1, line x2, text x, row centre y]
const legendPos = [
  [320, 396, 398, 66], [711, 790, 800, 66], [982, 1059, 1066, 66],
  [321, 398, 408, 108], [706, 783, 793, 108], [984, 1059, 1068, 108],
  [321, 398, 408, 150]
];

const legendBox = document.getElementById('legend');
seriesNames.forEach((name, i) => {
  const [x1, x2, tx, cy] = legendPos[i];
  const ln = document.createElement('div');
  ln.className = 'key-line';
  ln.style.left = x1 + 'px';
  ln.style.width = (x2 - x1) + 'px';
  ln.style.top = (cy - widths[i] / 2) + 'px';
  ln.style.height = widths[i] + 'px';
  ln.style.background = colors[i];
  legendBox.appendChild(ln);
  const label = document.createElement('div');
  label.className = 'key-text';
  label.style.left = tx + 'px';
  label.style.top = (cy - 16.4) + 'px';
  label.textContent = name;
  legendBox.appendChild(label);
});

// frame and tick marks, placed with the chart's own scales
const frameTicks = {
  id: 'frameTicks',
  afterDatasetsDraw(chart) {
    const { ctx, chartArea: a, scales: { x, y } } = chart;
    const seg = (x1, y1, x2, y2) => { ctx.beginPath(); ctx.moveTo(x1, y1); ctx.lineTo(x2, y2); ctx.stroke(); };
    ctx.save();
    ctx.strokeStyle = '#000';
    ctx.lineWidth = 2;
    for (let v = x.min; v <= x.max + 1e-9; v += 0.5) {
      const px = x.getPixelForValue(v);
      const major = Math.abs(v - Math.round(v)) < 1e-9;
      seg(px, a.bottom + (major ? 9 : 0), px, a.bottom - 6);
      seg(px, a.top, px, a.top + (major ? 11 : 6));
    }
    for (let v = y.min; v <= y.max + 1e-9; v += 5) {
      const py = y.getPixelForValue(v);
      const major = v % 10 === 0;
      seg(a.left - (major ? 5 : 0), py, a.left + (major ? 11 : 7), py);
      seg(a.right, py, a.right - (major ? 11 : 8), py);
    }
    ctx.lineWidth = 2.5;
    ctx.strokeRect(a.left, a.top, a.right - a.left, a.bottom - a.top);
    ctx.restore();
  }
};

const fontFamily = '"Liberation Sans", Arial, sans-serif';

function makePanel(canvasId, range, axisHeight) {
  const [xmin, xmax] = range;
  return new Chart(document.getElementById(canvasId), {
    type: 'line',
    data: {
      datasets: seriesData.map((d, i) => ({
        label: seriesNames[i],
        data: d.map(([x, y]) => ({ x, y })),
        borderColor: colors[i],
        borderWidth: widths[i],
        pointRadius: 0,
        cubicInterpolationMode: 'monotone',
        fill: false,
        order: drawOrder[i]
      }))
    },
    options: {
      responsive: false,
      animation: false,
      events: [],
      layout: { padding: { top: 18, right: 2, left: 0, bottom: 0 } },
      plugins: { legend: { display: false }, tooltip: { enabled: false } },
      scales: {
        x: {
          type: 'linear', min: xmin, max: xmax,
          grid: { display: false, drawTicks: false },
          border: { display: false },
          ticks: {
            stepSize: 1, autoSkip: false, maxRotation: 0, padding: 2,
            color: '#000', font: { family: fontFamily, size: 33, lineHeight: 2.0 },
            callback: v => (v === xmax ? '' : String(v))
          },
          afterFit: s => { s.height = axisHeight; }
        },
        y: {
          min: 0, max: 50,
          grid: { display: false, drawTicks: false },
          border: { display: false },
          ticks: {
            stepSize: 10, padding: 10, color: '#000',
            font: { family: fontFamily, size: 33, lineHeight: 0.3 },
            callback: v => String(v)
          },
          afterFit: s => { s.width = 125; }
        }
      }
    },
    plugins: [frameTicks]
  });
}

makePanel('topChart', panelRanges[0], 74);
makePanel('bottomChart', panelRanges[1], 48);
</script>
</body>
</html>
